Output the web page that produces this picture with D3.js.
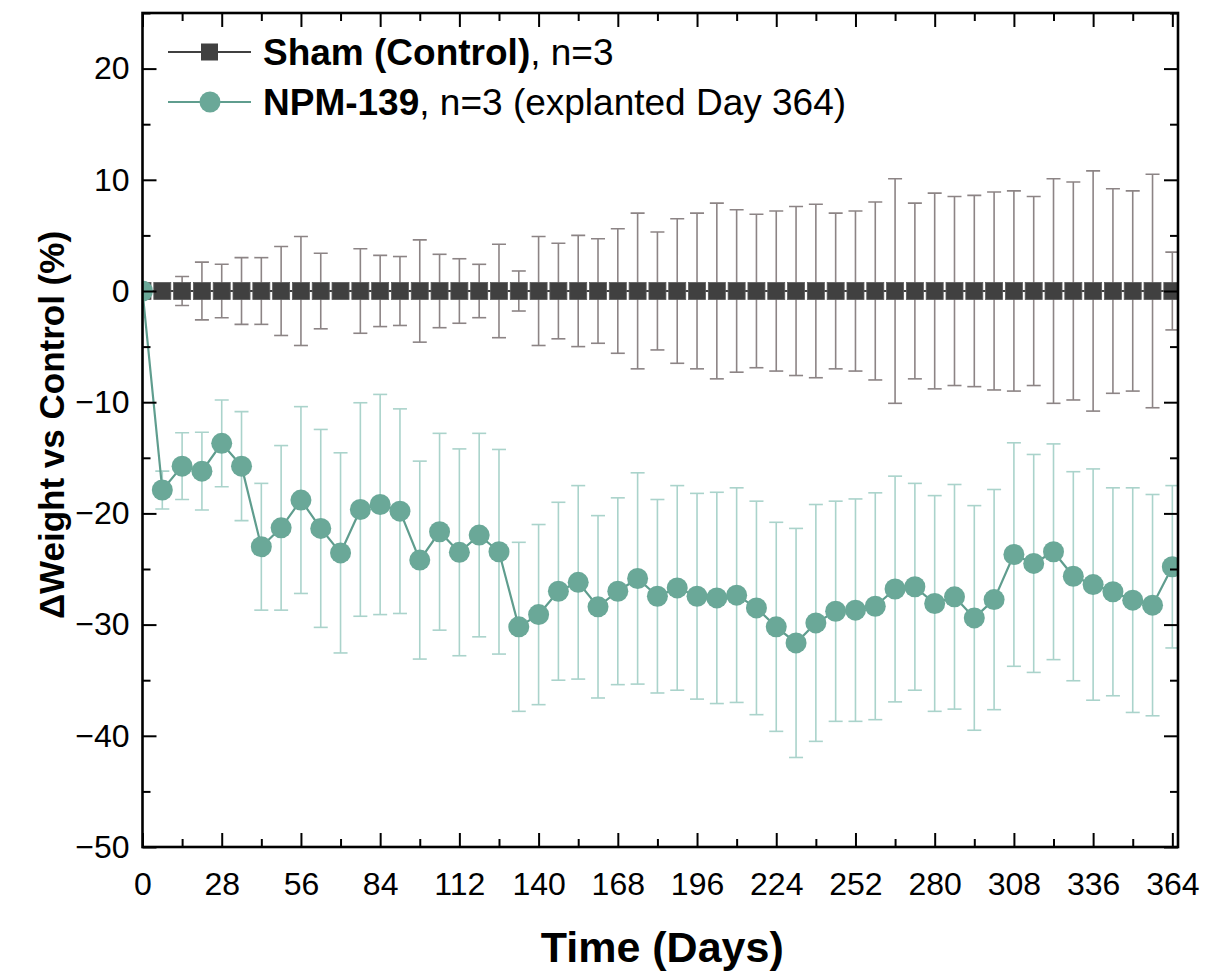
<!DOCTYPE html>
<html>
<head>
<meta charset="utf-8">
<script src="https://cdn.jsdelivr.net/npm/d3@7"></script>
<style>
  body { margin: 0; background: #fff; }
  svg { display: block; font-family: "Liberation Sans", Arial, sans-serif; }
</style>
</head>
<body>
<div id="chart"></div>
<script>
// days of measurement
const days = [0, 7, 14, 21, 28, 35, 42, 49, 56, 63, 70, 77, 84, 91, 98, 105, 112, 119, 126, 133,
  140, 147, 154, 161, 168, 175, 182, 189, 196, 203, 210, 217, 224, 231, 238, 245, 252, 259, 266, 273,
  280, 287, 294, 301, 308, 315, 322, 329, 336, 343, 350, 357, 364];

// Sham (Control): always 0, spread grows over time
const shamMean = [0, 0, 0, 0, 0, 0, 0, 0, 0, 0, 0, 0, 0, 0, 0, 0, 0, 0, 0, 0,
  0, 0, 0, 0, 0, 0, 0, 0, 0, 0, 0, 0, 0, 0, 0, 0, 0, 0, 0, 0,
  0, 0, 0, 0, 0, 0, 0, 0, 0, 0, 0, 0, 0];
const shamErr = [0, 0.5, 1.3, 2.6, 2.4, 3.0, 3.0, 4.0, 4.9, 3.4, 0.6, 3.8, 3.2, 3.1, 4.6, 3.3, 2.9, 2.4, 4.2, 1.8,
  4.9, 4.3, 5.0, 4.7, 5.6, 7.0, 5.3, 6.5, 7.0, 7.9, 7.3, 6.9, 7.2, 7.6, 7.8, 7.0, 7.2, 8.0, 10.1, 7.9,
  8.8, 8.5, 8.6, 8.9, 9.0, 8.5, 10.1, 9.8, 10.8, 9.2, 9.0, 10.5, 3.5];

// NPM-139
const npmMean = [0, -17.9, -15.75, -16.2, -13.7, -15.75, -23.0, -21.3, -18.8, -21.35, -23.55, -19.65, -19.2, -19.8, -24.2, -21.65, -23.5, -21.95, -23.45, -30.2,
  -29.1, -27.0, -26.2, -28.4, -27.0, -25.85, -27.45, -26.7, -27.45, -27.6, -27.35, -28.5, -30.2, -31.65, -29.85, -28.8, -28.7, -28.35, -26.8, -26.6,
  -28.1, -27.5, -29.4, -27.75, -23.7, -24.5, -23.45, -25.65, -26.4, -27.05, -27.8, -28.25, -24.8];
const npmErr = [0, 1.7, 3.0, 3.5, 3.9, 4.9, 5.7, 7.4, 8.4, 8.9, 9.0, 9.6, 9.9, 9.2, 8.9, 8.85, 9.3, 9.15, 9.2, 7.6,
  8.1, 8.0, 8.7, 8.2, 8.4, 9.5, 8.7, 9.2, 9.25, 9.5, 9.65, 9.6, 9.4, 10.3, 10.65, 9.9, 10.0, 10.2, 10.15, 9.3,
  9.7, 10.1, 10.1, 9.9, 10.05, 9.8, 9.7, 9.4, 10.4, 9.35, 10.1, 9.95, 7.3];

const xTicks = [0, 28, 56, 84, 112, 140, 168, 196, 224, 252, 280, 308, 336, 364];
const xMinor = [14, 42, 70, 98, 126, 154, 182, 210, 238, 266, 294, 322, 350];
const yTicks = [20, 10, 0, -10, -20, -30, -40, -50];
const yMinor = [25, 15, 5, -5, -15, -25, -35, -45];

const width = 1208, height = 973;
const margin = { top: 13, right: 30, bottom: 126, left: 142.5 };
const innerW = width - margin.left - margin.right;
const innerH = height - margin.top - margin.bottom;

const shamColor = "#404040", shamBarColor = "#8c8485";
const npmColor = "#6aa898", npmLine = "#5f9d8e", npmBarColor = "#aad3cb";

const svg = d3.select("#chart").append("svg")
  .attr("width", width).attr("height", height);

const g = svg.append("g").attr("transform", `translate(${margin.left},${margin.top})`);

const x = d3.scaleLinear().domain([0, 366]).range([0, innerW]);
const y = d3.scaleLinear().domain([-50, 25]).range([innerH, 0]);

g.append("clipPath").attr("id", "plot-clip")
  .append("rect").attr("width", innerW).attr("height", innerH);

const plot = g.append("g").attr("clip-path", "url(#plot-clip)");

function errorBars(layer, mean, err, color) {
  const data = days.map((d, i) => ({ d, m: mean[i], e: err[i] })).filter(p => p.e > 0);
  const bars = layer.append("g").attr("stroke", color).attr("stroke-width", 1.6).attr("fill", "none");
  bars.selectAll("line.v").data(data).enter().append("line")
    .attr("x1", p => x(p.d)).attr("x2", p => x(p.d))
    .attr("y1", p => y(p.m + p.e)).attr("y2", p => y(p.m - p.e));
  bars.selectAll("line.top").data(data).enter().append("line")
    .attr("x1", p => x(p.d) - 7).attr("x2", p => x(p.d) + 7)
    .attr("y1", p => y(p.m + p.e)).attr("y2", p => y(p.m + p.e));
  bars.selectAll("line.bot").data(data).enter().append("line")
    .attr("x1", p => x(p.d) - 7).attr("x2", p => x(p.d) + 7)
    .attr("y1", p => y(p.m - p.e)).attr("y2", p => y(p.m - p.e));
}

errorBars(plot, npmMean, npmErr, npmBarColor);
errorBars(plot, shamMean, shamErr, shamBarColor);

const line = d3.line().x((d, i) => x(days[i])).y(d => y(d));

// sham series
plot.append("path").datum(shamMean)
  .attr("d", line).attr("fill", "none").attr("stroke", shamColor).attr("stroke-width", 2);
plot.selectAll("rect.sham").data(shamMean).enter().append("rect")
  .attr("x", (d, i) => x(days[i]) - 8.5).attr("y", d => y(d) - 8.5)
  .attr("width", 17).attr("height", 17)
  .attr("fill", shamColor).attr("stroke", "#5a5a5a").attr("stroke-width", 0.8);

// NPM series
plot.append("path").datum(npmMean)
  .attr("d", line).attr("fill", "none").attr("stroke", npmLine).attr("stroke-width", 2.2);
plot.selectAll("circle.npm").data(npmMean).enter().append("circle")
  .attr("cx", (d, i) => x(days[i])).attr("cy", d => y(d))
  .attr("r", 10.5).attr("fill", npmColor);

// axes
const fs = 32;
function styleAxis(sel) {
  sel.select(".domain").remove();
  sel.selectAll(".tick line").attr("stroke", "#000").attr("stroke-width", 2);
  sel.selectAll(".tick text").attr("fill", "#000").style("font-size", fs + "px");
}

g.append("g").attr("transform", `translate(0,${innerH})`)
  .call(d3.axisBottom(x).tickValues(xTicks).tickSize(-14).tickPadding(25))
  .call(styleAxis);
g.append("g").attr("transform", `translate(0,${innerH})`)
  .call(d3.axisBottom(x).tickValues(xMinor).tickSize(-8).tickFormat(""))
  .call(styleAxis);
g.append("g")
  .call(d3.axisTop(x).tickValues(xTicks).tickSize(-14).tickFormat(""))
  .call(styleAxis);
g.append("g")
  .call(d3.axisTop(x).tickValues(xMinor).tickSize(-8).tickFormat(""))
  .call(styleAxis);

const yFmt = d => (d < 0 ? "\u2212" + Math.abs(d) : String(d));
g.append("g")
  .call(d3.axisLeft(y).tickValues(yTicks).tickSize(-14).tickPadding(13).tickFormat(yFmt))
  .call(styleAxis);
g.append("g")
  .call(d3.axisLeft(y).tickValues(yMinor).tickSize(-8).tickFormat(""))
  .call(styleAxis);
g.append("g").attr("transform", `translate(${innerW},0)`)
  .call(d3.axisRight(y).tickValues(yTicks).tickSize(-14).tickFormat(""))
  .call(styleAxis);
g.append("g").attr("transform", `translate(${innerW},0)`)
  .call(d3.axisRight(y).tickValues(yMinor).tickSize(-8).tickFormat(""))
  .call(styleAxis);

// frame
g.append("rect").attr("width", innerW).attr("height", innerH)
  .attr("fill", "none").attr("stroke", "#000").attr("stroke-width", 2.6);

// axis titles
svg.append("text")
  .attr("x", margin.left + innerW / 2 + 2).attr("y", 962)
  .attr("text-anchor", "middle").attr("font-weight", "bold")
  .style("font-size", "43px").text("Time (Days)");

svg.append("text")
  .attr("transform", `translate(64,${margin.top + innerH / 2 - 5}) rotate(-90)`)
  .attr("text-anchor", "middle").attr("font-weight", "bold")
  .style("font-size", "35px").text("\u0394Weight vs Control (%)");

// legend
const legend = svg.append("g");
const rows = [
  { y: 52, bold: "Sham (Control)", rest: ", n=3", color: shamColor, shape: "square" },
  { y: 102, bold: "NPM-139", rest: ", n=3 (explanted Day 364)", color: npmColor, shape: "circle" }
];
rows.forEach(r => {
  legend.append("line").attr("x1", 168).attr("x2", 251).attr("y1", r.y).attr("y2", r.y)
    .attr("stroke", r.shape === "square" ? shamColor : npmLine).attr("stroke-width", 2);
  if (r.shape === "square") {
    legend.append("rect").attr("x", 201).attr("y", r.y - 8.5).attr("width", 17).attr("height", 17)
      .attr("fill", r.color);
  } else {
    legend.append("circle").attr("cx", 210).attr("cy", r.y).attr("r", 10.5).attr("fill", r.color);
  }
  const t = legend.append("text").attr("x", 263).attr("y", r.y + 13)
    .style("font-size", "37px");
  t.append("tspan").attr("font-weight", "bold").text(r.bold);
  t.append("tspan").text(r.rest);
});
</script>
</body>
</html>
